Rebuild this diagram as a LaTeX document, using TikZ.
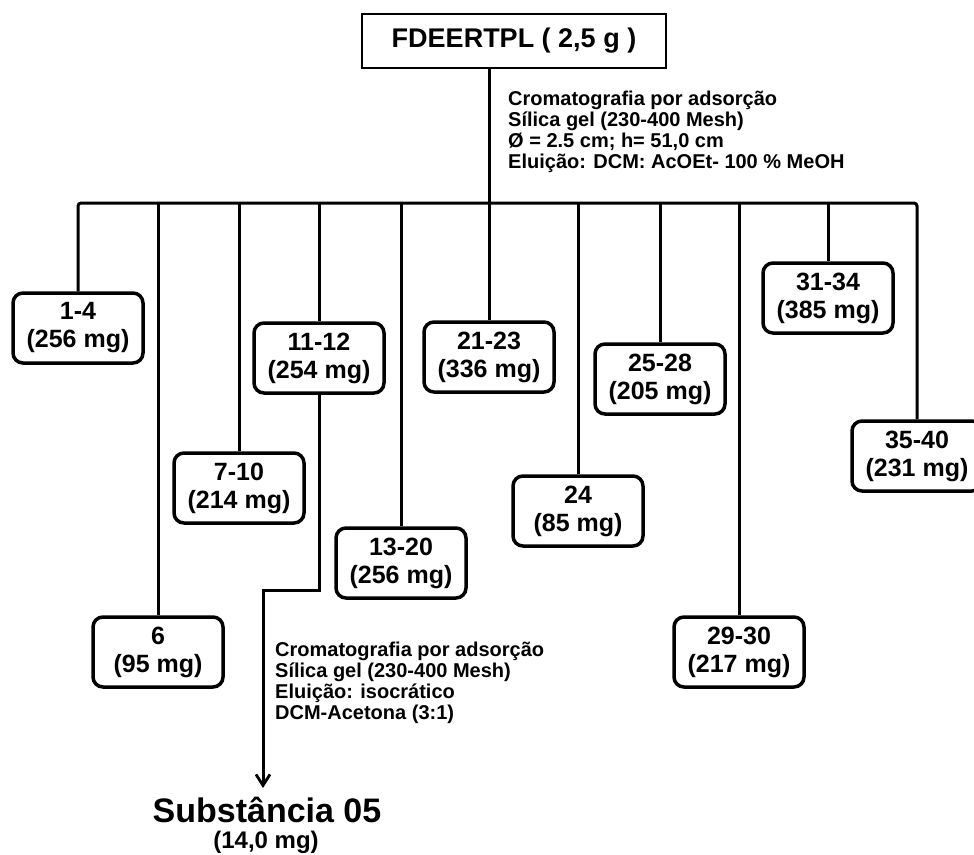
\documentclass[tikz,border=0pt]{standalone}
\usepackage{fontspec}
\setmainfont{Liberation Sans}
\usetikzlibrary{arrows.meta}
\begin{document}
\begin{tikzpicture}[x=1pt,y=-1pt,
  frac/.style={draw, line width=3.5pt, rounded corners=10pt,
    minimum width=130pt, minimum height=70pt, inner sep=0pt, align=center,
    font=\bfseries\fontsize{25}{28}\selectfont},
  link/.style={line width=3pt},
  note/.style={inner sep=0pt, anchor=north west, align=left,
    font=\bfseries\fontsize{20}{21}\selectfont},
  flow/.style={line width=3pt, -{Straight Barb[length=11pt,width=14pt,line width=2.8pt]}}
]
\useasboundingbox (0,0) rectangle (974,854);

% crude extract
\node[draw, line width=2.8pt, minimum width=304pt, minimum height=54pt, inner sep=0pt,
  font=\bfseries\fontsize{27}{30}\selectfont] (top) at (514,41) {FDEERTPL ( 2,5 g )};

% column fractions
\node[frac] (b14)   at (78,328)  {1-4\\(256 mg)};
\node[frac] (b6)    at (158,652) {6\\(95 mg)};
\node[frac] (b710)  at (239,488) {7-10\\(214 mg)};
\node[frac] (b1112) at (319,358) {11-12\\(254 mg)};
\node[frac] (b1320) at (401,563) {13-20\\(256 mg)};
\node[frac] (b2123) at (489,357) {21-23\\(336 mg)};
\node[frac] (b24)   at (578,511) {24\\(85 mg)};
\node[frac] (b2528) at (660,379) {25-28\\(205 mg)};
\node[frac] (b2930) at (739,652) {29-30\\(217 mg)};
\node[frac] (b3134) at (828,298) {31-34\\(385 mg)};
\node[frac] (b3540) at (917,456) {35-40\\(231 mg)};

% distribution bar
\coordinate (bar) at (0,203);
\draw[link, rounded corners=3pt] (b14.north) |- (b3540.north |- bar) -- (b3540.north);
\draw[link] (top.south -| b2123.north) -- (b2123.north);
\foreach \b in {b6,b710,b1112,b1320,b24,b2528,b2930,b3134}
  \draw[link] (\b.north |- bar) -- (\b.north);

% column conditions
\node[note] (cond1) at (508,91) {Cromatografia por adsorção\\Sílica gel (230-400 Mesh)\\Ø = 2.5 cm; h= 51,0 cm\\Eluição: DCM: AcOEt- 100 \% MeOH};

% purification of fraction 11-12
\coordinate (bend) at (263,590);
\coordinate (tip) at (263,788);
\draw[flow] (b1112.south) |- (bend) -- (tip);
\node[note] (cond2) at (275,642) {Cromatografia por adsorção\\Sílica gel (230-400 Mesh)\\Eluição: isocrático\\DCM-Acetona (3:1)};

\node[inner sep=0pt, font=\bfseries\fontsize{34}{36}\selectfont] (sub) at (267,810) {Substância 05};
\node[inner sep=0pt, font=\bfseries\fontsize{24}{26}\selectfont] (submass) at (266,842) {(14,0 mg)};
\end{tikzpicture}
\end{document}
